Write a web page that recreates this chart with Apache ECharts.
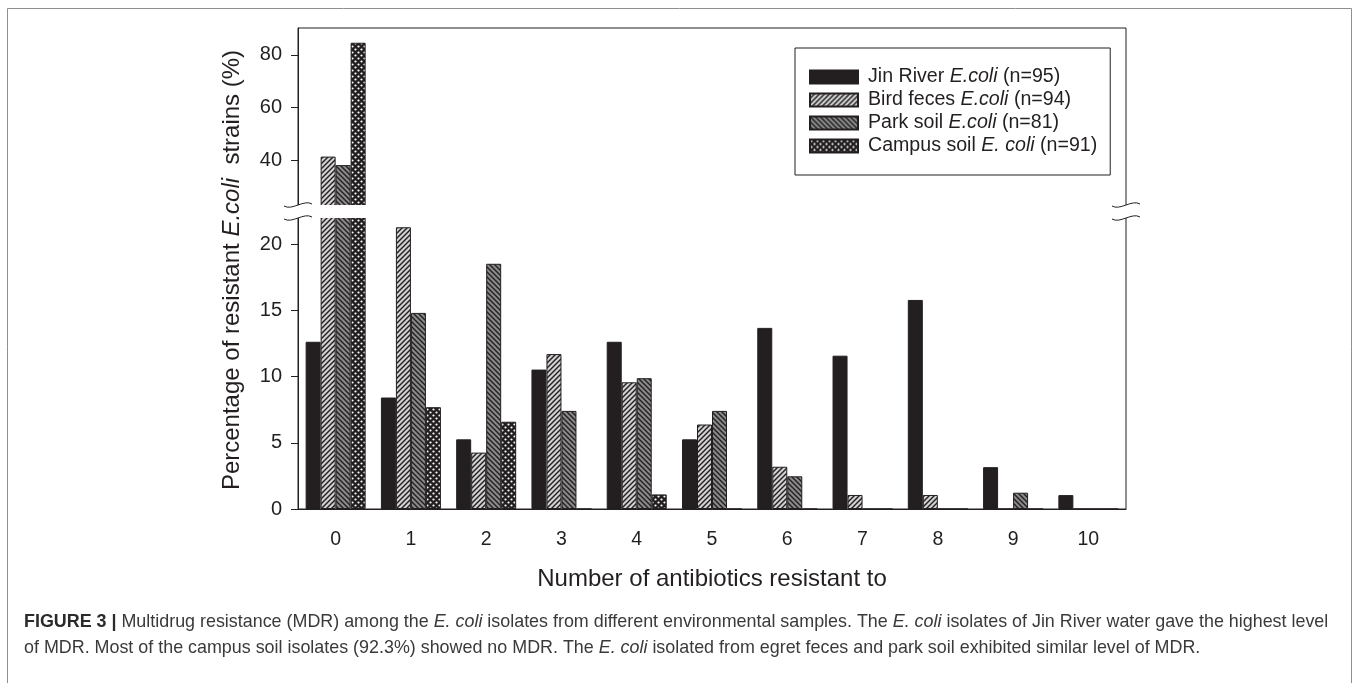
<!DOCTYPE html>
<html>
<head>
<meta charset="utf-8">
<script src="https://cdn.jsdelivr.net/npm/echarts@6/dist/echarts.min.js"></script>
<style>
  html, body { margin: 0; padding: 0; background: #fff; }
  #chart { width: 1358px; height: 683px; }
</style>
</head>
<body>
<div id="chart"></div>
<script>
// Number of antibiotics an isolate is resistant to
const categories = ['0', '1', '2', '3', '4', '5', '6', '7', '8', '9', '10'];

const seriesNames = [
  'Jin River E.coli (n=95)',
  'Bird feces E.coli (n=94)',
  'Park soil E.coli (n=81)',
  'Campus soil E. coli (n=91)'
];

// Percentage of resistant strains per source
const jinRiver   = [12.63, 8.42, 5.26, 10.53, 12.63, 5.26, 13.68, 11.58, 15.79, 3.16, 1.05];
const birdFeces  = [41.49, 21.28, 4.26, 11.70, 9.57, 6.38, 3.19, 1.06, 1.06, 0, 0];
const parkSoil   = [38.27, 14.81, 18.52, 7.41, 9.88, 7.41, 2.47, 0, 0, 1.23, 0];
const campusSoil = [84.62, 7.69, 6.59, 0, 1.10, 0, 0, 0, 0, 0, 0];

// Tick labels of the two segments of the broken y axis
const lowerTicks = [0, 5, 10, 15, 20];
const upperTicks = [40, 60, 80];

// ---- layout ----
const INK = '#231f20';
const FONT = '"Liberation Sans", Arial, Helvetica, sans-serif';
const PLOT_LEFT = 298, PLOT_RIGHT = 1126;
const UPPER_TOP = 28, UPPER_BOTTOM = 207;
const LOWER_TOP = 216, LOWER_BOTTOM = 509;
const BREAK_HI = 205, BREAK_LO = 218;
const CAPTION_SIZE = 17.9;
const LEGEND_SIZE = 19.6;

// ---- fill patterns ----
function tile(size, draw) {
  const c = document.createElement('canvas');
  c.width = c.height = size;
  draw(c.getContext('2d'), size);
  return c;
}
function hatch(bg, forward) {
  return tile(5, (ctx, s) => {
    ctx.fillStyle = bg; ctx.fillRect(0, 0, s, s);
    ctx.strokeStyle = INK; ctx.lineWidth = 1.4;
    const segs = forward
      ? [[-1, s + 1, s + 1, -1], [-1, 1, 1, -1], [s - 1, s + 1, s + 1, s - 1]]
      : [[-1, -1, s + 1, s + 1], [s - 1, -1, s + 1, 1], [-1, s - 1, 1, s + 1]];
    segs.forEach(([a, b, c, d]) => { ctx.beginPath(); ctx.moveTo(a, b); ctx.lineTo(c, d); ctx.stroke(); });
  });
}
const dots = tile(6, (ctx, s) => {
  ctx.fillStyle = INK; ctx.fillRect(0, 0, s, s);
  ctx.fillStyle = '#ffffff';
  [[1.5, 1.5], [4.5, 4.5]].forEach(([x, y]) => { ctx.beginPath(); ctx.arc(x, y, 1.1, 0, Math.PI * 2); ctx.fill(); });
});

const fills = [
  INK,
  { image: hatch('#d2d2d2', true), repeat: 'repeat' },
  { image: hatch('#8a8a8a', false), repeat: 'repeat' },
  { image: dots, repeat: 'repeat' }
];
const values = [jinRiver, birdFeces, parkSoil, campusSoil];

function italicName(name) {
  const m = name.match(/^(.*?)(E\.\s?coli)(.*)$/);
  return m ? `{n|${m[1]}}{i|${m[2]}}{n|${m[3]}}` : `{n|${name}}`;
}

const series = [];
[0, 1].forEach(g => {
  values.forEach((vals, k) => {
    series.push({
      type: 'bar',
      name: seriesNames[k],
      xAxisIndex: g,
      yAxisIndex: g,
      data: vals,
      barWidth: 15,
      barGap: '0%',
      clip: true,
      itemStyle: { color: fills[k], borderColor: INK, borderWidth: 1 },
      emphasis: { disabled: true },
      silent: true
    });
  });
});

const axisText = { color: INK, fontFamily: FONT };

const chart = echarts.init(document.getElementById('chart'), null, { renderer: 'canvas' });

// break marks drawn as small tilde curves on both vertical edges
function breakMark(x, y) {
  return {
    type: 'bezierCurve',
    z: 101,
    shape: { x1: x - 14, y1: y + 1, cpx1: x - 6, cpy1: y + 6, cpx2: x + 6, cpy2: y - 6, x2: x + 14, y2: y - 1 },
    style: { stroke: INK, lineWidth: 1, fill: 'none' }
  };
}

const captionRich = {
  b: { fontSize: CAPTION_SIZE, fontFamily: FONT, fill: '#2b2b2b', fontWeight: 'bold' },
  n: { fontSize: CAPTION_SIZE, fontFamily: FONT, fill: '#3a3a3a' },
  i: { fontSize: CAPTION_SIZE, fontFamily: FONT, fill: '#3a3a3a', fontStyle: 'italic' }
};

chart.setOption({
  animation: false,
  backgroundColor: '#ffffff',
  textStyle: { fontFamily: FONT },
  grid: [
    { left: PLOT_LEFT, width: PLOT_RIGHT - PLOT_LEFT, top: LOWER_TOP, height: LOWER_BOTTOM - LOWER_TOP,
      show: true, borderColor: INK, borderWidth: 1, backgroundColor: 'transparent' },
    { left: PLOT_LEFT, width: PLOT_RIGHT - PLOT_LEFT, top: UPPER_TOP, height: UPPER_BOTTOM - UPPER_TOP,
      show: true, borderColor: INK, borderWidth: 1, backgroundColor: 'transparent' }
  ],
  xAxis: [
    {
      gridIndex: 0, type: 'category', data: categories,
      axisLine: { lineStyle: { color: INK, width: 1 } },
      axisTick: { alignWithLabel: true, length: 8, lineStyle: { color: INK } },
      axisLabel: Object.assign({ fontSize: 19.5, margin: 21 }, axisText),
      name: 'Number of antibiotics resistant to',
      nameLocation: 'middle', nameGap: 58,
      nameTextStyle: Object.assign({ fontSize: 24 }, axisText)
    },
    { gridIndex: 1, type: 'category', data: categories, show: false }
  ],
  yAxis: [
    {
      gridIndex: 0, type: 'value', min: 0, max: (LOWER_BOTTOM - LOWER_TOP) / 13.24,
      axisLine: { show: true, lineStyle: { color: INK } },
      axisTick: { show: true, length: 7, customValues: lowerTicks, lineStyle: { color: INK } },
      axisLabel: Object.assign({ fontSize: 20, margin: 16, customValues: lowerTicks }, axisText),
      splitLine: { show: false }
    },
    {
      gridIndex: 1, type: 'value', min: 22.4, max: 22.4 + (UPPER_BOTTOM - UPPER_TOP) / 2.64,
      axisLine: { show: true, lineStyle: { color: INK } },
      axisTick: { show: true, length: 7, customValues: upperTicks, lineStyle: { color: INK } },
      axisLabel: Object.assign({ fontSize: 20, margin: 16, customValues: upperTicks }, axisText),
      splitLine: { show: false }
    }
  ],
  legend: {
    data: seriesNames,
    orient: 'vertical',
    left: 795, top: 48,
    itemWidth: 48, itemHeight: 13, itemGap: 3,
    padding: [19, 13, 19, 14],
    borderColor: INK, borderWidth: 1,
    icon: 'rect',
    selectedMode: false,
    formatter: italicName,
    textStyle: {
      color: INK, fontSize: LEGEND_SIZE, lineHeight: 20, fontFamily: FONT, padding: [0, 0, 0, 5],
      rich: {
        n: { fontSize: LEGEND_SIZE, fontFamily: FONT, color: INK },
        i: { fontSize: LEGEND_SIZE, fontFamily: FONT, color: INK, fontStyle: 'italic' }
      }
    }
  },
  series: series,
  graphic: [
    // figure frame
    { type: 'rect', z: 0, silent: true,
      shape: { x: 7.5, y: 8.5, width: 1344, height: 700 },
      style: { fill: 'none', stroke: '#8f8f8f', lineWidth: 1 } },
    // gap of the axis break
    { type: 'rect', z: 100, silent: true,
      shape: { x: PLOT_LEFT - 20, y: BREAK_HI, width: PLOT_RIGHT - PLOT_LEFT + 40, height: BREAK_LO - BREAK_HI },
      style: { fill: '#ffffff' } },
    breakMark(PLOT_LEFT, BREAK_HI),
    breakMark(PLOT_LEFT, BREAK_LO),
    breakMark(PLOT_RIGHT, BREAK_HI),
    breakMark(PLOT_RIGHT, BREAK_LO),
    // y axis title
    { type: 'text', z: 101, x: 232, y: 270, rotation: Math.PI / 2,
      style: {
        text: '{n|Percentage of resistant }{i|E.coli}{n|  strains (%)}',
        align: 'center', verticalAlign: 'middle',
        rich: {
          n: { fontSize: 24, fontFamily: FONT, fill: INK },
          i: { fontSize: 24, fontFamily: FONT, fill: INK, fontStyle: 'italic' }
        }
      } },
    // caption
    { type: 'text', z: 101, x: 24, y: 622,
      style: {
        text: '{b|FIGURE 3 |}{n| Multidrug resistance (MDR) among the }{i|E. coli}{n| isolates from different environmental samples. The }{i|E. coli}{n| isolates of Jin River water gave the highest level}',
        align: 'left', verticalAlign: 'middle',
        rich: captionRich
      } },
    { type: 'text', z: 101, x: 24, y: 648,
      style: {
        text: '{n|of MDR. Most of the campus soil isolates (92.3%) showed no MDR. The }{i|E. coli}{n| isolated from egret feces and park soil exhibited similar level of MDR.}',
        align: 'left', verticalAlign: 'middle',
        rich: captionRich
      } }
  ]
});
</script>
</body>
</html>
